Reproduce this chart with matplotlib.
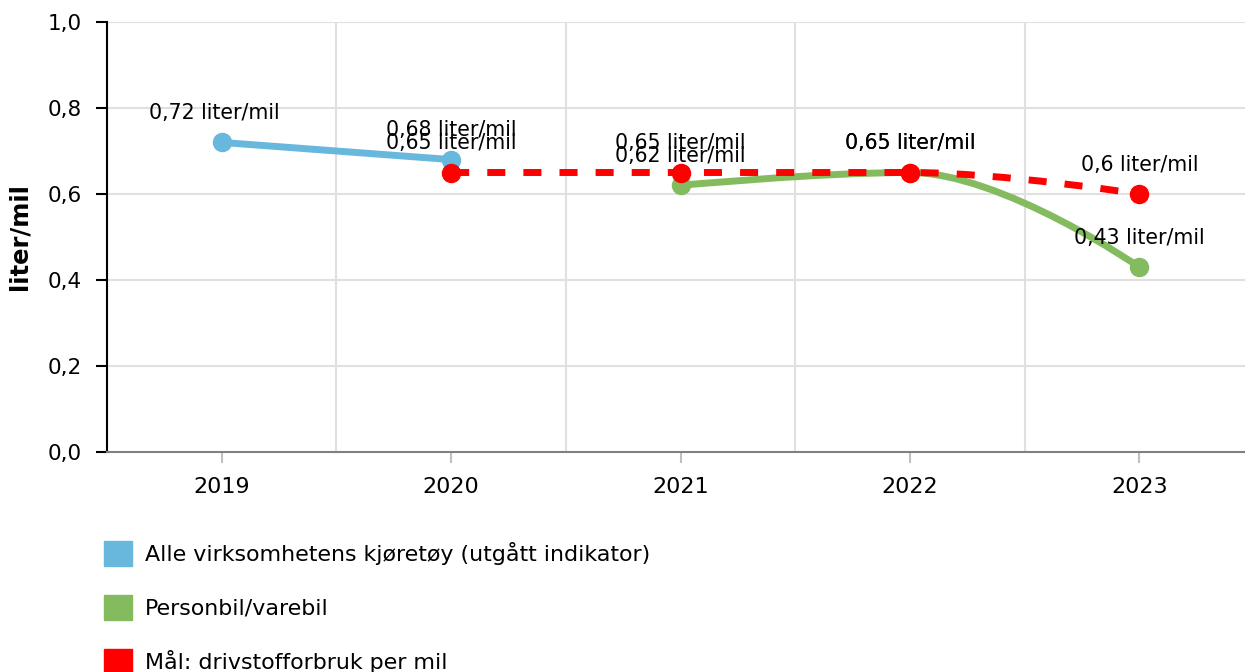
import matplotlib
matplotlib.use('Agg')
import matplotlib.pyplot as plt
import numpy as np
from matplotlib.path import Path
from matplotlib.patches import PathPatch, Patch

years = ['2019', '2020', '2021', '2022', '2023']

# Alle virksomhetens kjøretøy (utgått indikator)
alle_x = [0, 1]
alle_y = [0.72, 0.68]
# Personbil/varebil
pers_x = [2, 3, 4]
pers_y = [0.62, 0.65, 0.43]
# Mål: drivstofforbruk per mil
maal_x = [1, 2, 3, 4]
maal_y = [0.65, 0.65, 0.65, 0.60]

c_blue = '#68b7dc'
c_green = '#84bb5f'
c_red = '#ff0000'


def spline_path(xs, ys, smoothing=1.5):
    # bezier path like the highcharts "spline" series
    xs = np.asarray(xs, float)
    ys = np.asarray(ys, float)
    n = len(xs)
    denom = smoothing + 1
    left = [(xs[i], ys[i]) for i in range(n)]
    right = [(xs[i], ys[i]) for i in range(n)]
    for i in range(1, n - 1):
        px, py = xs[i], ys[i]
        lx, ly = xs[i - 1], ys[i - 1]
        nx, ny = xs[i + 1], ys[i + 1]
        lcx = (smoothing * px + lx) / denom
        lcy = (smoothing * py + ly) / denom
        rcx = (smoothing * px + nx) / denom
        rcy = (smoothing * py + ny) / denom
        if rcx != lcx:
            corr = (rcy - lcy) * (rcx - px) / (rcx - lcx) + py - rcy
            lcy += corr
            rcy += corr
        if lcy > max(ly, py):
            lcy = max(ly, py)
            rcy = 2 * py - lcy
        elif lcy < min(ly, py):
            lcy = min(ly, py)
            rcy = 2 * py - lcy
        if rcy > max(ny, py):
            rcy = max(ny, py)
            lcy = 2 * py - rcy
        elif rcy < min(ny, py):
            rcy = min(ny, py)
            lcy = 2 * py - rcy
        left[i] = (lcx, lcy)
        right[i] = (rcx, rcy)
    verts = [(xs[0], ys[0])]
    codes = [Path.MOVETO]
    for i in range(1, n):
        verts += [right[i - 1], left[i], (xs[i], ys[i])]
        codes += [Path.CURVE4] * 3
    return Path(verts, codes)


fig = plt.figure(figsize=(12.45, 6.72), dpi=100)
ax = fig.add_axes([107 / 1245, 1 - 452 / 672, 1 - 107 / 1245, 430 / 672])

ax.set_xlim(-0.5, 4.46)
ax.set_ylim(0, 1.0)

# grid
for y in np.arange(0.2, 1.01, 0.2):
    ax.axhline(y, color='#e0e0e0', lw=1.5, zorder=0)
for x in [0.5, 1.5, 2.5, 3.5]:
    ax.axvline(x, color='#e0e0e0', lw=1.5, zorder=0)

ax.plot(alle_x, alle_y, color=c_blue, lw=5, marker='o', ms=13,
        solid_capstyle='round', zorder=3)

ax.add_patch(PathPatch(spline_path(pers_x, pers_y), fill=False,
                       edgecolor=c_green, lw=5, capstyle='round', zorder=3))
ax.plot(pers_x, pers_y, 'o', color=c_green, ms=13, zorder=3)

ax.add_patch(PathPatch(spline_path(maal_x, maal_y), fill=False,
                       edgecolor=c_red, lw=5, linestyle=(0, (2.6, 2.6)),
                       capstyle='butt', zorder=4))
ax.plot(maal_x, maal_y, 'o', color=c_red, ms=13, zorder=4)

# data labels
for xs, ys in [(alle_x, alle_y), (pers_x, pers_y), (maal_x, maal_y)]:
    for x, y in zip(xs, ys):
        txt = f'{y:g}'.replace('.', ',') + ' liter/mil'
        dx = -5 if x == 0 else 0
        ax.annotate(txt, (x, y), xytext=(dx, 21), textcoords='offset points',
                    ha='center', va='center', fontsize=14.8, zorder=5)

ax.set_xticks(range(len(years)))
ax.set_xticklabels(years, fontsize=16)
ax.set_yticks(np.arange(0, 1.01, 0.2))
ax.set_yticklabels([f'{v:.1f}'.replace('.', ',') for v in np.arange(0, 1.01, 0.2)],
                   fontsize=15.5)
ax.tick_params(axis='x', length=8, width=1.5, color='#c0c0c0', pad=10)
ax.tick_params(axis='y', length=8, width=1.5, color='black', pad=10)
ax.set_ylabel('liter/mil', fontsize=17.5, fontweight='bold', labelpad=12)

for s in ['top', 'right']:
    ax.spines[s].set_visible(False)
ax.spines['left'].set_color('black')
ax.spines['left'].set_linewidth(1.5)
ax.spines['bottom'].set_color('#808080')
ax.spines['bottom'].set_linewidth(1.5)

handles = [Patch(color=c_blue), Patch(color=c_green), Patch(color=c_red)]
labels = ['Alle virksomhetens kjøretøy (utgått indikator)',
          'Personbil/varebil',
          'Mål: drivstofforbruk per mil']
fig.legend(handles, labels, loc='upper left',
           bbox_to_anchor=(95 / 1245, 1 - 532 / 672), frameon=False,
           fontsize=15.9, handlelength=1.27, handleheight=1.4,
           handletextpad=0.6, labelspacing=1.29, borderaxespad=0)

fig.savefig('out.png', dpi=100)
